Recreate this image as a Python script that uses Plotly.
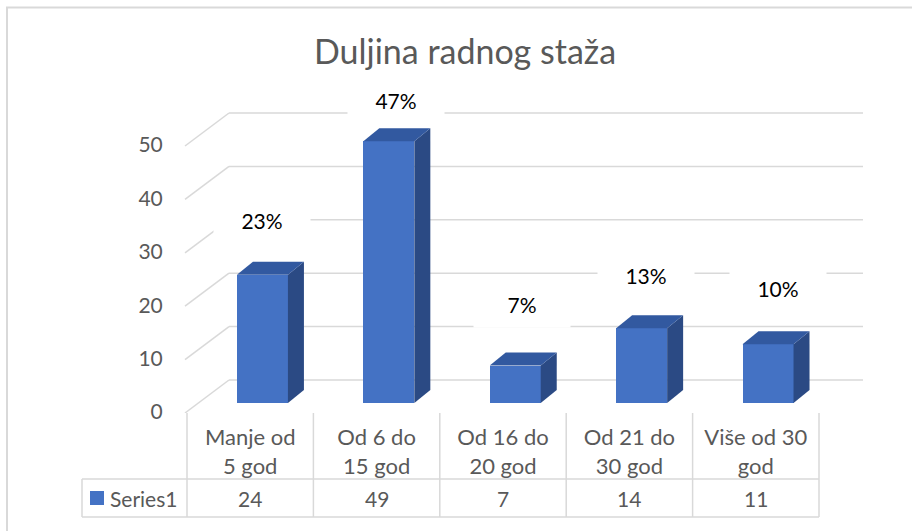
import plotly.graph_objects as go

# ---------------- data ----------------
categories = ["Manje od 5 god", "Od 6 do 15 god", "Od 16 do 20 god", "Od 21 do 30 god", "Više od 30 god"]
category_ticks = ["Manje od<br>5 god", "Od 6 do<br>15 god", "Od 16 do<br>20 god", "Od 21 do<br>30 god", "Više od 30<br>god"]
series_name = "Series1"
values = [24, 49, 7, 14, 11]
y_ticks = [0, 10, 20, 30, 40, 50]
title_text = "Duljina radnog staža"

# ---------------- layout constants (pixels) ----------------
W, H = 912, 531
FONT = "Lato"
GREY_TXT = "#595959"
GRID = "#D9D9D9"
FRONT = "#4472C4"
TOP = "#3259A0"
SIDE = "#2B4A84"

K = 5.34            # px per value unit
COL = 126.4         # px per category
X0PX = 250.2        # pixel of category 0 centre (table column centre)
PLOT_BOTTOM = 413   # front floor edge (pixel)
BAR_BASE = 403      # pixel of bar base
BACK_BASE = 380     # pixel of back-wall zero line
FRONT_LEFT = 185
BACK_LEFT = 229
BACK_RIGHT = 863
BAR_OFF = -0.105
BAR_W = 0.4035
DEPTH_DX = 16
DEPTH_DY = 13
LABEL_DX_PX = [0, 7, 7, 4, 10]
LABEL_DY_PX = [55, 41, 62, 53, 56]

n = len(values)
xs = list(range(n))


def px2x(px):
    return (px - X0PX) / COL


def dpx2x(d):
    return d / COL


def dpx2y(d):
    return d / K


def pxy2paper(py):
    return 1 - py / H


def pxx2paper(px):
    return px / W


fig = go.Figure()
fig.add_trace(go.Bar(
    x=xs, y=values, name=series_name,
    offset=BAR_OFF, width=BAR_W,
    marker=dict(color=FRONT, line=dict(width=0)),
    hoverinfo="skip", showlegend=False,
))
# invisible trace to drive the tick-label axis
fig.add_trace(go.Scatter(x=[0], y=[0], yaxis="y2", mode="markers",
                         marker=dict(opacity=0), hoverinfo="skip", showlegend=False))

shapes = []
# back-wall gridlines + diagonal side-wall lines
back_off = dpx2y(BAR_BASE - BACK_BASE)
front_off = dpx2y(PLOT_BOTTOM - BAR_BASE)
for v in y_ticks:
    shapes.append(dict(type="line", xref="x", yref="y", layer="below",
                       x0=px2x(BACK_LEFT), x1=px2x(BACK_RIGHT), y0=v + back_off, y1=v + back_off,
                       line=dict(color=GRID, width=1.5)))
    shapes.append(dict(type="line", xref="x", yref="y", layer="below",
                       x0=px2x(FRONT_LEFT), x1=px2x(BACK_LEFT), y0=v - front_off, y1=v + back_off,
                       line=dict(color=GRID, width=1.5)))

# 3D faces of bars
ddx = dpx2x(DEPTH_DX)
ddy = dpx2y(DEPTH_DY)
for i, v in enumerate(values):
    xl = i + BAR_OFF
    xr = xl + BAR_W
    top = f"M {xl},{v} L {xl+ddx},{v+ddy} L {xr+ddx},{v+ddy} L {xr},{v} Z"
    side = f"M {xr},0 L {xr},{v} L {xr+ddx},{v+ddy} L {xr+ddx},{ddy} Z"
    shapes.append(dict(type="path", path=side, xref="x", yref="y", layer="above",
                       fillcolor=SIDE, line=dict(width=0)))
    shapes.append(dict(type="path", path=top, xref="x", yref="y", layer="above",
                       fillcolor=TOP, line=dict(width=0)))

# data table lines
for i in range(n + 1):
    shapes.append(dict(type="line", xref="x", yref="paper",
                       x0=i - 0.5, x1=i - 0.5, y0=pxy2paper(413), y1=pxy2paper(517),
                       line=dict(color=GRID, width=1.5)))
for py in (479, 517):
    shapes.append(dict(type="line", xref="paper", yref="paper",
                       x0=pxx2paper(82), x1=pxx2paper(819), y0=pxy2paper(py), y1=pxy2paper(py),
                       line=dict(color=GRID, width=1.5)))
shapes.append(dict(type="line", xref="paper", yref="paper",
                   x0=pxx2paper(82), x1=pxx2paper(82), y0=pxy2paper(479), y1=pxy2paper(517),
                   line=dict(color=GRID, width=1.5)))
# legend key square
shapes.append(dict(type="rect", xref="paper", yref="paper",
                   x0=pxx2paper(90), x1=pxx2paper(104), y0=pxy2paper(505), y1=pxy2paper(491),
                   fillcolor=FRONT, line=dict(width=0)))
# chart border (top + left visible), kept inside the paper
shapes.append(dict(type="line", xref="paper", yref="paper",
                   x0=pxx2paper(6), x1=1, y0=pxy2paper(7.5), y1=pxy2paper(7.5),
                   line=dict(color=GRID, width=2)))
shapes.append(dict(type="line", xref="paper", yref="paper",
                   x0=pxx2paper(7), x1=pxx2paper(7), y0=pxy2paper(7), y1=0,
                   line=dict(color=GRID, width=2)))

annotations = []
total = sum(values)
for i, v in enumerate(values):
    pct = f"{round(v / total * 100)}%"
    cx = i + BAR_OFF + BAR_W / 2 + dpx2x(LABEL_DX_PX[i])
    annotations.append(dict(x=cx, y=v + dpx2y(LABEL_DY_PX[i]), xref="x", yref="y",
                            text=pct, showarrow=False, bgcolor="white",
                            width=96, height=46, borderpad=0,
                            font=dict(family=FONT, size=21, color="#000000")))
# table values row
for i, v in enumerate(values):
    annotations.append(dict(x=i, y=pxy2paper(498), xref="x", yref="paper",
                            text=str(v), showarrow=False, yanchor="middle",
                            font=dict(family=FONT, size=21, color=GREY_TXT)))
annotations.append(dict(x=pxx2paper(108), y=pxy2paper(498), xref="paper", yref="paper",
                        text=series_name, showarrow=False, xanchor="left", yanchor="middle",
                        font=dict(family=FONT, size=21, color=GREY_TXT)))

dom_bottom = pxy2paper(PLOT_BOTTOM)
y_lo = -(PLOT_BOTTOM - BAR_BASE) / K
y_span = PLOT_BOTTOM / K
y2_lo = -1 / K

fig.update_layout(
    width=W, height=H,
    margin=dict(l=0, r=0, t=0, b=0, pad=0),
    paper_bgcolor="white", plot_bgcolor="white",
    title=dict(text=title_text, x=465 / W, y=pxy2paper(52), xanchor="center", yanchor="middle",
               font=dict(family=FONT, size=34, color=GREY_TXT), automargin=False),
    xaxis=dict(domain=[0, 1], range=[px2x(0), px2x(W)], showgrid=False, zeroline=False,
               showline=False, tickvals=xs, ticktext=category_ticks, ticks="outside",
               ticklen=5, tickcolor="rgba(0,0,0,0)", automargin=False,
               tickfont=dict(family=FONT, size=22, color=GREY_TXT)),
    yaxis=dict(domain=[dom_bottom, 1], range=[y_lo, y_lo + y_span], visible=False,
               automargin=False),
    yaxis2=dict(overlaying="y", anchor="free", position=FRONT_LEFT / W, side="left",
                range=[y2_lo, y2_lo + y_span], tickvals=y_ticks, showgrid=False,
                zeroline=False, showline=False, ticks="outside", ticklen=18,
                tickcolor="rgba(0,0,0,0)", automargin=False,
                tickfont=dict(family=FONT, size=21, color=GREY_TXT)),
    shapes=shapes,
    annotations=annotations,
    showlegend=False,
    bargap=0,
)

fig.write_html("out.html", config={"displayModeBar": False},
               post_script="document.body.style.margin='0';document.body.style.overflow='hidden';")
